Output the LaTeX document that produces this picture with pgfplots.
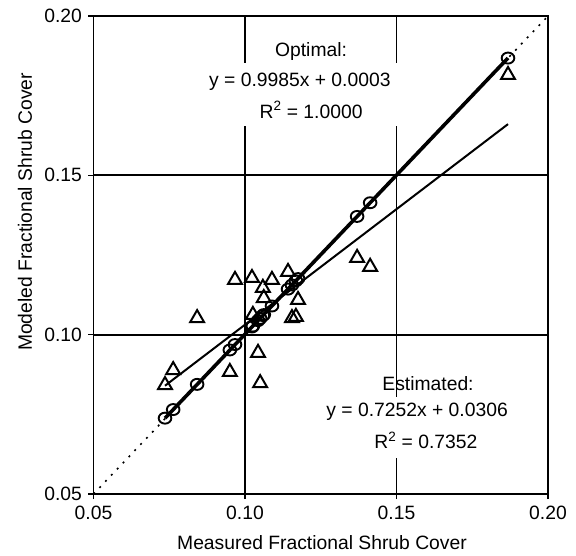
\documentclass[border=0pt]{standalone}
\usepackage{pgfplots}
\pgfplotsset{compat=1.18}
\usepackage{fontspec}
\setmainfont{Liberation Sans}

\begin{document}
\fontsize{19.3}{23}\selectfont
\begin{tikzpicture}[x=1pt,y=1pt]
\begin{axis}[
  at={(93.5pt,61pt)}, anchor=south west,
  scale only axis, width=454.5pt, height=478pt,
  xmin=0.05, xmax=0.20, ymin=0.05, ymax=0.20,
  xtick={0.05,0.10,0.15,0.20}, ytick={0.05,0.10,0.15,0.20},
  xticklabels={0.05,0.10,0.15,0.20}, yticklabels={0.05,0.10,0.15,0.20},
  tick align=outside, xtick pos=left, ytick pos=left,
  major tick length=5pt,
  grid=major, grid style={black, line width=1.8pt},
  axis line style={black, line width=1.8pt},
  tick style={black, line width=1.6pt},
  every tick label/.append style={font=\fontsize{19.3}{23}\selectfont},
  clip=false,
]
% 1:1 reference line
\addplot[black, line width=1.6pt, dash pattern=on 2pt off 6.5pt] coordinates {(0.05,0.05) (0.20,0.20)};
% regression of the estimated values
\addplot[black, line width=2pt] coordinates {(0.0736,0.08398) (0.1868,0.16607)};
% regression of the optimal values
\addplot[black, line width=3.6pt] coordinates {(0.0736,0.07379) (0.1868,0.18682)};
% optimal model values
\addplot[only marks, mark=o, mark size=5.5pt, mark options={xscale=1.15}, black, line width=1.9pt] coordinates {
(0.0736,0.0738) (0.0763,0.0765) (0.0842,0.0844) (0.0950,0.0952) (0.0967,0.0969)
(0.1023,0.1024) (0.1026,0.1027) (0.1043,0.1044) (0.1050,0.1051) (0.1059,0.1060)
(0.1062,0.1063) (0.1089,0.1090) (0.1142,0.1143) (0.1155,0.1156) (0.1168,0.1169)
(0.1175,0.1176) (0.1370,0.1371) (0.1413,0.1414) (0.1868,0.1868)};
% estimated model values
\addplot[only marks, mark=triangle, mark size=8pt, black, line width=2pt] coordinates {
(0.0736,0.0842) (0.0763,0.0889) (0.0842,0.1052) (0.0950,0.0883) (0.0967,0.1172)
(0.1023,0.1178) (0.1026,0.1062) (0.1043,0.0943) (0.1050,0.0848) (0.1059,0.1147)
(0.1062,0.1115) (0.1089,0.1172) (0.1142,0.1197) (0.1155,0.1052) (0.1168,0.1056)
(0.1175,0.1109) (0.1370,0.1241) (0.1413,0.1213) (0.1868,0.1815)};
% annotation panels
\fill[white] (axis cs:0.0851,0.1655) rectangle (axis cs:0.1518,0.1853);
\node at (axis cs:0.1218,0.1887) {Optimal:};
\node at (axis cs:0.1181,0.1793) {y = 0.9985x + 0.0003};
\node at (axis cs:0.1218,0.1705) {R\textsuperscript{2} = 1.0000};
\fill[white] (axis cs:0.1247,0.0613) rectangle (axis cs:0.1891,0.0804);
\node at (axis cs:0.1604,0.0848) {Estimated:};
\node at (axis cs:0.1568,0.0757) {y = 0.7252x + 0.0306};
\node at (axis cs:0.1597,0.0669) {R\textsuperscript{2} = 0.7352};
\end{axis}
\node at (322pt,12pt) {Measured Fractional Shrub Cover};
\node[rotate=90] at (25pt,343pt) {Modeled Fractional Shrub Cover};
\pgfresetboundingbox
\path[use as bounding box] (0,0) rectangle (576pt,555pt);
\end{tikzpicture}
\end{document}
